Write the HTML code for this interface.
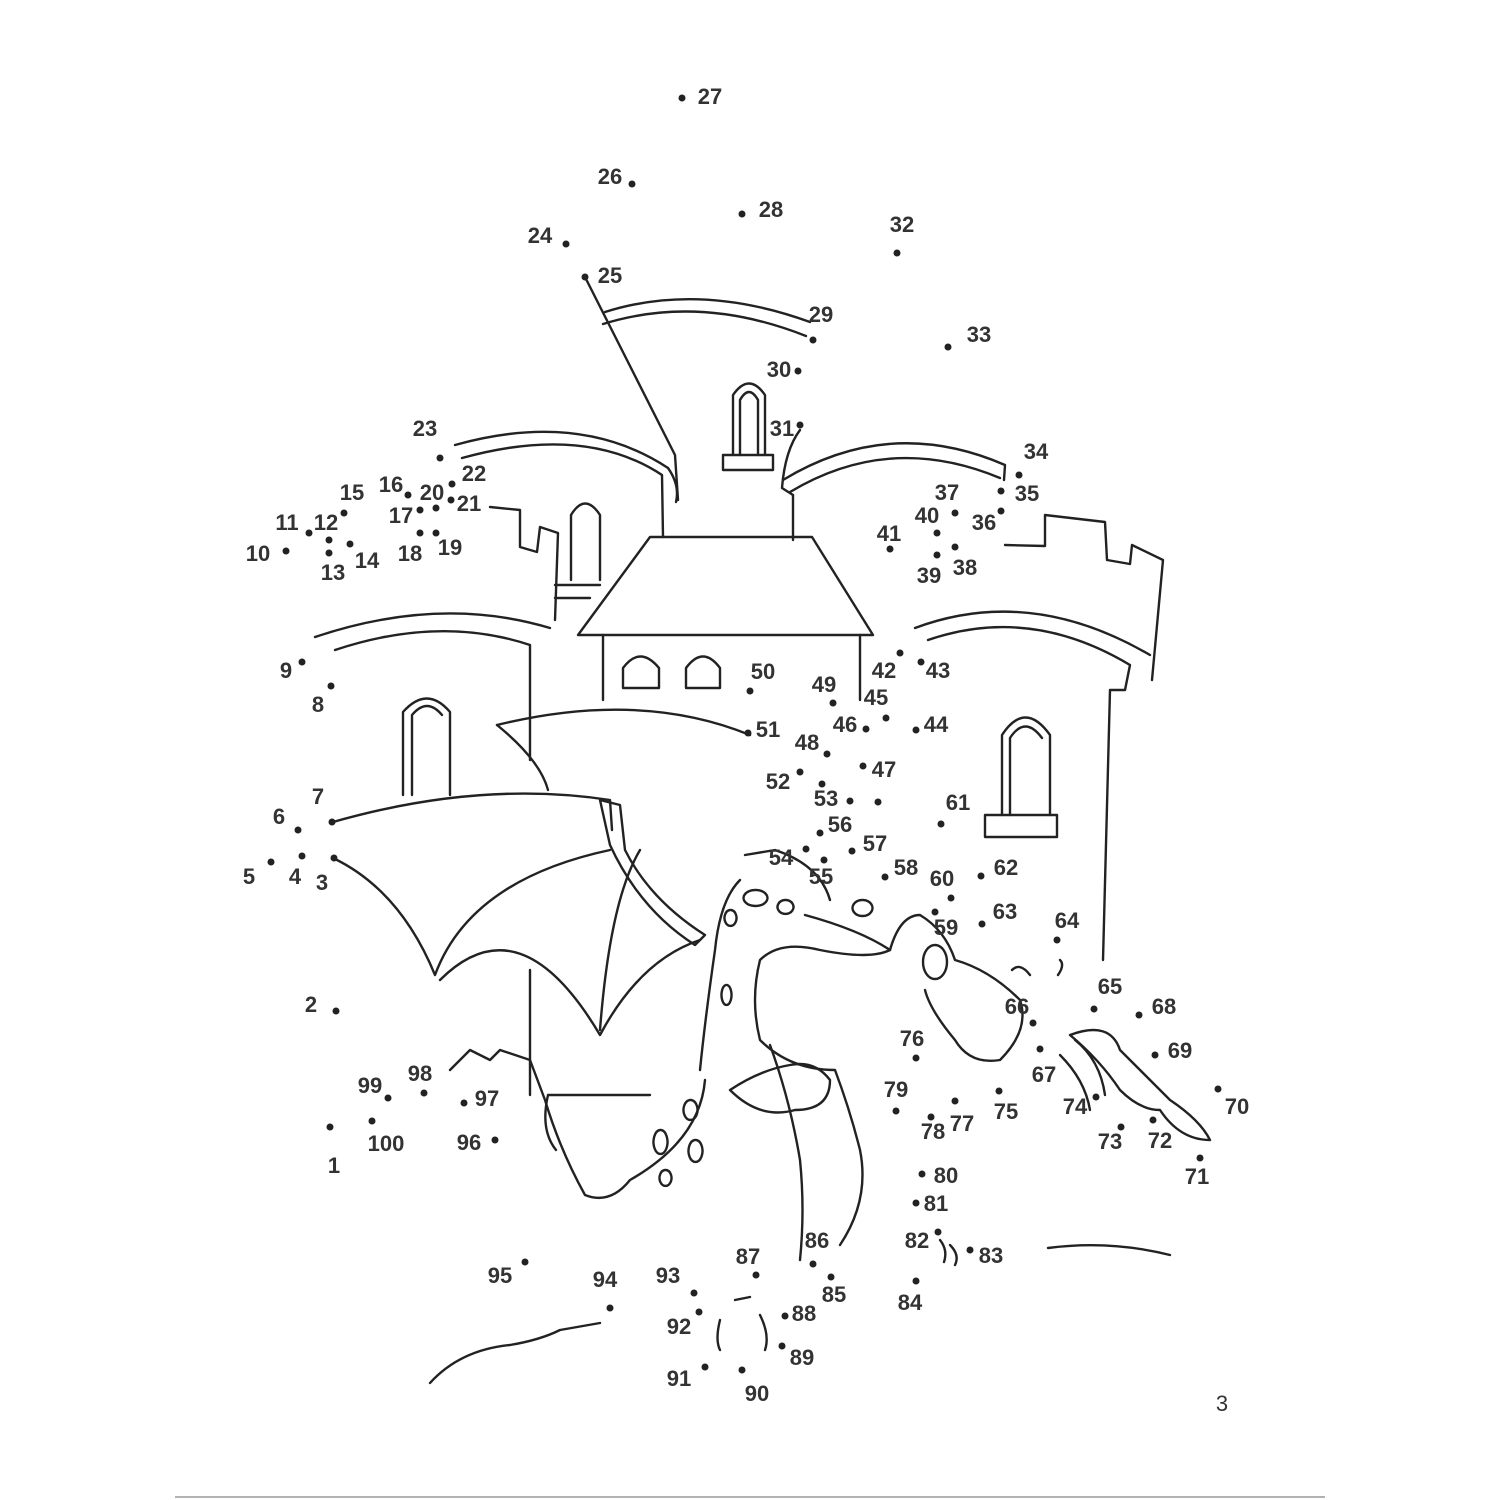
<!DOCTYPE html>
<html><head><meta charset="utf-8"><style>
html,body{margin:0;padding:0;background:#fff}
svg{display:block}
text{font-family:"Liberation Sans",sans-serif;font-weight:bold;font-size:22px;fill:#333;text-anchor:middle;dominant-baseline:middle}
.l{fill:none;stroke:#222;stroke-width:2.4;stroke-linecap:round;stroke-linejoin:round}
</style></head><body>
<svg width="1500" height="1500" viewBox="0 0 1500 1500">
<g class="l">
<!-- central tower -->
<path d="M585,277 L675,455 L678,500"/>
<path d="M605,312 Q700,282 810,322"/>
<path d="M603,324 Q700,294 806,336"/>
<path d="M733,455 V395 Q749,372 765,395 V455 M740,455 V400 Q749,384 758,400 V455"/>
<rect x="723" y="455" width="50" height="15"/>
<path d="M800,430 Q785,450 782,488 L793,495"/>
<!-- left upper tower -->
<path d="M455,445 Q580,410 668,468 Q680,485 676,502"/>
<path d="M462,458 Q585,424 662,475 L663,537"/>
<path d="M490,507 L520,510 L520,547 L537,552 L540,527 L558,533 L555,620"/>
<path d="M571,580 V515 Q585,492 600,515 V580 M555,585 H600 M555,598 H590"/>
<!-- right upper tower -->
<path d="M783,480 Q890,415 1005,465 L1004,480"/>
<path d="M790,492 Q890,432 1000,478"/>
<path d="M793,495 V540"/>
<path d="M1005,545 L1045,546 L1045,515 L1105,522 L1107,560 L1130,564 L1132,545 L1163,560 L1152,680"/>
<!-- roof & house -->
<path d="M650,537 L812,537 L873,635 L578,635 Z"/>
<path d="M603,635 V700 M860,635 V700"/>
<path d="M623,688 V668 Q640,645 659,668 V688 Z"/>
<path d="M686,688 V668 Q703,645 720,668 V688 Z"/>
<!-- left lower tower -->
<path d="M315,637 Q440,595 550,628"/>
<path d="M335,650 Q440,615 530,645 L530,760"/>
<path d="M530,970 V1095"/>
<path d="M403,795 V712 Q427,685 450,712 V795 M412,795 V715 Q427,697 442,715"/>
<!-- right big tower -->
<path d="M915,628 Q1030,585 1150,655"/>
<path d="M928,640 Q1030,605 1130,665 L1125,690 L1110,690 L1103,960"/>
<path d="M1002,815 V735 Q1025,700 1050,735 V815 M1010,815 V738 Q1025,715 1042,738"/>
<rect x="985" y="815" width="72" height="22"/>
<!-- wings -->
<path d="M333,822 Q480,780 610,800 L612,830"/>
<path d="M333,858 Q400,890 435,975 Q470,880 610,850"/>
<path d="M440,980 Q520,900 600,1035 Q640,960 700,940"/>
<path d="M600,1030 Q610,900 640,850"/>
<path d="M600,800 L620,805 L625,850 Q650,900 705,935 L695,945 Q640,910 610,845 Z"/>
<path d="M497,725 Q640,690 750,735"/>
<path d="M497,725 Q540,760 548,790"/>
<path d="M548,1095 L650,1095 M548,1095 Q540,1130 556,1150"/>
<path d="M450,1070 L470,1050 L490,1060 L500,1050 L530,1060 L545,1100 Q560,1150 585,1195 Q610,1205 630,1180 Q700,1140 705,1080"/>
<!-- dragon body -->
<path d="M745,855 L775,850 Q820,865 830,900 M740,880 Q720,900 715,950 Q705,1020 700,1070"/>
<path d="M805,915 Q860,930 890,950 Q870,960 820,950 Q780,940 760,960 Q750,1000 760,1040 Q790,1070 835,1070 Q850,1110 860,1150 Q870,1200 840,1245"/>
<path d="M770,1045 Q790,1100 800,1160 Q805,1210 800,1260"/>
<path d="M730,1090 Q760,1120 795,1110 Q830,1110 830,1080 Q815,1060 790,1065 Q760,1070 730,1090"/>
<path d="M890,950 Q900,915 920,915 Q945,930 955,960 Q990,970 1020,1000 Q1030,1030 1000,1060 Q970,1065 955,1040 Q930,1010 925,990"/>
<ellipse cx="935" cy="962" rx="12" ry="17"/>
<path d="M862,900 a10,8 0 1 0 1,0 M755,890 a12,8 0 1 0 1,0 M785,900 a8,7 0 1 0 1,0 M730,910 a6,8 0 1 0 1,0 M726,985 a5,10 0 1 0 1,0 M690,1100 a7,10 0 1 0 1,0 M660,1130 a7,12 0 1 0 1,0 M695,1140 a7,11 0 1 0 1,0 M665,1170 a6,8 0 1 0 1,0"/>
<path d="M1012,970 Q1020,962 1030,975 M1060,960 Q1065,965 1058,975"/>
<!-- fire -->
<path d="M1070,1035 Q1110,1020 1120,1050 Q1150,1080 1170,1100 Q1200,1120 1210,1140 Q1180,1140 1160,1110 Q1140,1110 1120,1090 Q1100,1060 1070,1035"/>
<path d="M1060,1055 Q1085,1080 1090,1110 M1075,1040 Q1100,1060 1105,1095"/>
<!-- legs/feet -->
<path d="M735,1300 L750,1297 M720,1320 Q715,1340 720,1350 M760,1315 Q770,1335 765,1350"/>
<path d="M940,1240 Q948,1250 944,1262 M950,1245 Q960,1255 955,1265"/>
<!-- ground -->
<path d="M430,1383 Q460,1350 510,1345 Q540,1340 560,1330 L600,1323"/>
<path d="M1048,1248 Q1110,1240 1170,1255"/>
</g>
<line x1="175" y1="1497" x2="1325" y2="1497" stroke="#999" stroke-width="1.5"/>
<g fill="#222">
<circle cx="682" cy="98" r="3.5"/><circle cx="632" cy="184" r="3.5"/><circle cx="742" cy="214" r="3.5"/><circle cx="566" cy="244" r="3.5"/><circle cx="585" cy="277" r="3.5"/><circle cx="897" cy="253" r="3.5"/><circle cx="813" cy="340" r="3.5"/><circle cx="948" cy="347" r="3.5"/><circle cx="798" cy="371" r="3.5"/><circle cx="800" cy="425" r="3.5"/><circle cx="440" cy="458" r="3.5"/><circle cx="452" cy="484" r="3.5"/><circle cx="1019" cy="475" r="3.5"/><circle cx="1001" cy="491" r="3.5"/><circle cx="408" cy="495" r="3.5"/><circle cx="451" cy="500" r="3.5"/><circle cx="344" cy="513" r="3.5"/><circle cx="955" cy="513" r="3.5"/><circle cx="1001" cy="511" r="3.5"/><circle cx="937" cy="533" r="3.5"/><circle cx="309" cy="533" r="3.5"/><circle cx="329" cy="540" r="3.5"/><circle cx="420" cy="510" r="3.5"/><circle cx="436" cy="508" r="3.5"/><circle cx="420" cy="533" r="3.5"/><circle cx="436" cy="533" r="3.5"/><circle cx="890" cy="549" r="3.5"/><circle cx="286" cy="551" r="3.5"/><circle cx="350" cy="544" r="3.5"/><circle cx="329" cy="553" r="3.5"/><circle cx="937" cy="555" r="3.5"/><circle cx="955" cy="547" r="3.5"/><circle cx="302" cy="662" r="3.5"/><circle cx="900" cy="653" r="3.5"/><circle cx="921" cy="662" r="3.5"/><circle cx="750" cy="691" r="3.5"/><circle cx="833" cy="703" r="3.5"/><circle cx="886" cy="718" r="3.5"/><circle cx="331" cy="686" r="3.5"/><circle cx="748" cy="733" r="3.5"/><circle cx="866" cy="729" r="3.5"/><circle cx="916" cy="730" r="3.5"/><circle cx="827" cy="754" r="3.5"/><circle cx="863" cy="766" r="3.5"/><circle cx="800" cy="772" r="3.5"/><circle cx="332" cy="822" r="3.5"/><circle cx="822" cy="784" r="3.5"/><circle cx="850" cy="801" r="3.5"/><circle cx="878" cy="802" r="3.5"/><circle cx="941" cy="824" r="3.5"/><circle cx="298" cy="830" r="3.5"/><circle cx="820" cy="833" r="3.5"/><circle cx="852" cy="851" r="3.5"/><circle cx="806" cy="849" r="3.5"/><circle cx="824" cy="860" r="3.5"/><circle cx="271" cy="862" r="3.5"/><circle cx="302" cy="856" r="3.5"/><circle cx="334" cy="858" r="3.5"/><circle cx="885" cy="877" r="3.5"/><circle cx="981" cy="876" r="3.5"/><circle cx="951" cy="898" r="3.5"/><circle cx="935" cy="912" r="3.5"/><circle cx="982" cy="924" r="3.5"/><circle cx="1057" cy="940" r="3.5"/><circle cx="1094" cy="1009" r="3.5"/><circle cx="1139" cy="1015" r="3.5"/><circle cx="1033" cy="1023" r="3.5"/><circle cx="336" cy="1011" r="3.5"/><circle cx="916" cy="1058" r="3.5"/><circle cx="1040" cy="1049" r="3.5"/><circle cx="1155" cy="1055" r="3.5"/><circle cx="424" cy="1093" r="3.5"/><circle cx="388" cy="1098" r="3.5"/><circle cx="896" cy="1111" r="3.5"/><circle cx="464" cy="1103" r="3.5"/><circle cx="999" cy="1091" r="3.5"/><circle cx="1218" cy="1089" r="3.5"/><circle cx="955" cy="1101" r="3.5"/><circle cx="1096" cy="1097" r="3.5"/><circle cx="931" cy="1117" r="3.5"/><circle cx="372" cy="1121" r="3.5"/><circle cx="330" cy="1127" r="3.5"/><circle cx="495" cy="1140" r="3.5"/><circle cx="1121" cy="1127" r="3.5"/><circle cx="1153" cy="1120" r="3.5"/><circle cx="1200" cy="1158" r="3.5"/><circle cx="922" cy="1174" r="3.5"/><circle cx="916" cy="1203" r="3.5"/><circle cx="938" cy="1232" r="3.5"/><circle cx="813" cy="1264" r="3.5"/><circle cx="970" cy="1250" r="3.5"/><circle cx="756" cy="1275" r="3.5"/><circle cx="831" cy="1277" r="3.5"/><circle cx="525" cy="1262" r="3.5"/><circle cx="610" cy="1308" r="3.5"/><circle cx="694" cy="1293" r="3.5"/><circle cx="916" cy="1281" r="3.5"/><circle cx="785" cy="1316" r="3.5"/><circle cx="699" cy="1312" r="3.5"/><circle cx="782" cy="1346" r="3.5"/><circle cx="705" cy="1367" r="3.5"/><circle cx="742" cy="1370" r="3.5"/>
</g>
<g>
<text x="710" y="98">27</text><text x="610" y="178">26</text><text x="771" y="211">28</text><text x="540" y="237">24</text><text x="610" y="277">25</text><text x="902" y="226">32</text><text x="821" y="316">29</text><text x="979" y="336">33</text><text x="779" y="371">30</text><text x="782" y="430">31</text><text x="425" y="430">23</text><text x="474" y="475">22</text><text x="1036" y="453">34</text><text x="1027" y="495">35</text><text x="391" y="486">16</text><text x="432" y="494">20</text><text x="469" y="505">21</text><text x="352" y="494">15</text><text x="947" y="494">37</text><text x="984" y="524">36</text><text x="927" y="517">40</text><text x="287" y="524">11</text><text x="326" y="524">12</text><text x="401" y="517">17</text><text x="410" y="555">18</text><text x="450" y="549">19</text><text x="889" y="535">41</text><text x="258" y="555">10</text><text x="367" y="562">14</text><text x="333" y="574">13</text><text x="929" y="577">39</text><text x="965" y="569">38</text><text x="286" y="672">9</text><text x="884" y="672">42</text><text x="938" y="672">43</text><text x="763" y="673">50</text><text x="824" y="686">49</text><text x="876" y="699">45</text><text x="318" y="706">8</text><text x="768" y="731">51</text><text x="845" y="726">46</text><text x="936" y="726">44</text><text x="807" y="744">48</text><text x="884" y="771">47</text><text x="778" y="783">52</text><text x="318" y="798">7</text><text x="826" y="800">53</text><text x="958" y="804">61</text><text x="279" y="818">6</text><text x="840" y="826">56</text><text x="875" y="845">57</text><text x="781" y="859">54</text><text x="821" y="878">55</text><text x="249" y="878">5</text><text x="295" y="878">4</text><text x="322" y="884">3</text><text x="906" y="869">58</text><text x="1006" y="869">62</text><text x="942" y="880">60</text><text x="946" y="929">59</text><text x="1005" y="913">63</text><text x="1067" y="922">64</text><text x="1110" y="988">65</text><text x="1164" y="1008">68</text><text x="1017" y="1008">66</text><text x="311" y="1006">2</text><text x="912" y="1040">76</text><text x="1044" y="1076">67</text><text x="1180" y="1052">69</text><text x="420" y="1075">98</text><text x="370" y="1087">99</text><text x="896" y="1091">79</text><text x="487" y="1100">97</text><text x="1006" y="1113">75</text><text x="1237" y="1108">70</text><text x="962" y="1125">77</text><text x="1075" y="1108">74</text><text x="933" y="1133">78</text><text x="386" y="1145">100</text><text x="334" y="1167">1</text><text x="469" y="1144">96</text><text x="1110" y="1143">73</text><text x="1160" y="1142">72</text><text x="1197" y="1178">71</text><text x="946" y="1177">80</text><text x="936" y="1205">81</text><text x="917" y="1242">82</text><text x="817" y="1242">86</text><text x="991" y="1257">83</text><text x="748" y="1258">87</text><text x="834" y="1296">85</text><text x="500" y="1277">95</text><text x="605" y="1281">94</text><text x="668" y="1277">93</text><text x="910" y="1304">84</text><text x="804" y="1315">88</text><text x="679" y="1328">92</text><text x="802" y="1359">89</text><text x="679" y="1380">91</text><text x="757" y="1395">90</text>
<text x="1222" y="1405" style="font-weight:normal">3</text>
</g>
</svg>
</body></html>
